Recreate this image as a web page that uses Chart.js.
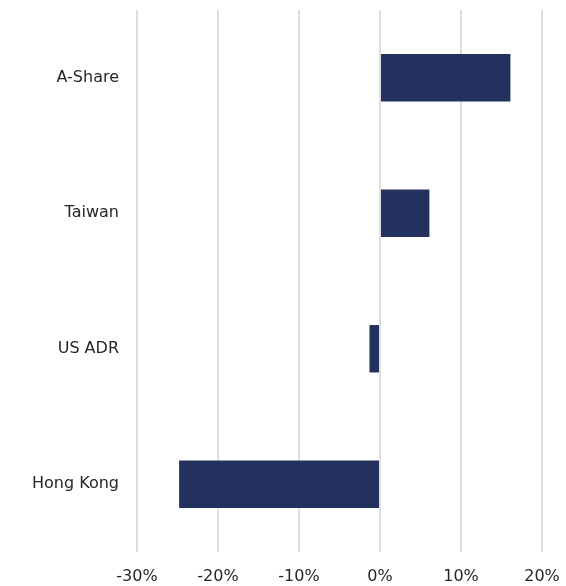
<!DOCTYPE html>
<html>
<head>
<meta charset="utf-8">
<script src="https://cdn.jsdelivr.net/npm/chart.js@4"></script>
<style>
  body { margin: 0; background: #fff; }
</style>
</head>
<body>
<canvas id="chart" width="566" height="586"></canvas>
<script>
const markets = ["A-Share", "Taiwan", "US ADR", "Hong Kong"];
const returns = [16.1, 6.1, -1.3, -24.8]; // %
const xTicks = [-30, -20, -10, 0, 10, 20];

const ctx = document.getElementById("chart").getContext("2d");
const labelFont = { family: "DejaVu Sans", size: 16 };

new Chart(ctx, {
  type: "bar",
  data: {
    labels: markets,
    datasets: [
      {
        data: returns,
        backgroundColor: "#22315e",
        borderWidth: 0,
        categoryPercentage: 1,
        barPercentage: 0.35,
      },
    ],
  },
  options: {
    indexAxis: "y",
    responsive: false,
    animation: false,
    layout: { padding: { top: 10, right: 24, left: 0, bottom: 0 } },
    plugins: { legend: { display: false }, tooltip: { enabled: false } },
    scales: {
      x: {
        min: xTicks[0],
        max: xTicks[xTicks.length - 1],
        ticks: {
          stepSize: 10,
          padding: 15,
          color: "#262626",
          font: labelFont,
          callback: (v) => v + "%",
        },
        grid: { color: "#dedede", lineWidth: 2, drawTicks: false },
        border: { display: false },
        afterFit: (s) => {
          s.height = 34;
          s.paddingLeft = 0;
          s.paddingRight = 0;
        },
      },
      y: {
        ticks: {
          padding: 18,
          color: "#262626",
          font: labelFont,
        },
        grid: { display: false, drawTicks: false },
        border: { display: false },
        afterFit: (s) => {
          s.width = 137;
          s.paddingTop = 0;
          s.paddingBottom = 0;
        },
      },
    },
  },
});
</script>
</body>
</html>
